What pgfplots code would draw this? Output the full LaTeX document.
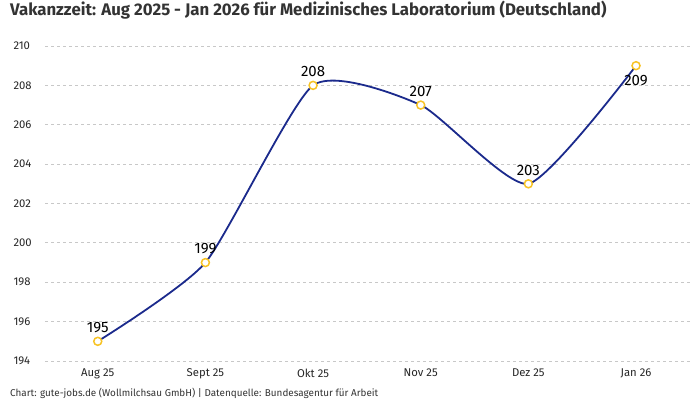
\documentclass[border=0pt]{standalone}
\usepackage{fontspec}
\setmainfont{Fira Sans}
\usepackage{pgfplots}
\pgfplotsset{compat=1.18}
\definecolor{linecol}{HTML}{1B2A8C}
\definecolor{markcol}{HTML}{F7C325}
\definecolor{titlecol}{HTML}{333333}
\definecolor{gridcol}{HTML}{C8C8C8}
\begin{document}
\begin{tikzpicture}[x=1pt,y=1pt]
\path[use as bounding box] (0,0) rectangle (700,400);
\node[anchor=west,font=\fontsize{16.8}{19}\selectfont\bfseries,text=titlecol,inner sep=0] at (10,390) {Vakanzzeit: Aug 2025 - Jan 2026 für Medizinisches Laboratorium (Deutschland)};
\node[anchor=west,font=\fontsize{9.9}{11}\selectfont,text=titlecol,inner sep=0] at (10,7) {Chart: gute-jobs.de (Wollmilchsau GmbH) | Datenquelle: Bundesagentur für Arbeit};
\begin{axis}[
  at={(45pt,39pt)}, anchor=south west, scale only axis,
  width=647pt, height=315pt,
  xmin=-0.49, xmax=5.52, ymin=194, ymax=210,
  axis line style={draw=none}, tick style={draw=none},
  ymajorgrids, grid style={gridcol, dashed, line width=0.8pt},
  xtick={0,...,5},
  xticklabels={Aug 25, Sept 25, Okt 25, Nov 25, Dez 25, Jan 26},
  ytick={194,196,...,210},
  ticklabel style={font=\fontsize{11.3}{13}\selectfont, text=black!85},
  xticklabel style={yshift=-4pt},
  yticklabel style={anchor=west, xshift=-35pt},
  /pgf/number format/assume math mode=true,
  clip=false,
]
\addplot[linecol, line width=1.8pt, smooth, tension=0.35,
  mark=*, mark size=4pt, mark options={fill=white, draw=markcol, line width=1.5pt}]
  coordinates {(0,195) (1,199) (2,208) (3,207) (4,203) (5,209)};
\addplot[draw=none, mark=none, nodes near coords, point meta=explicit symbolic,
  nodes near coords style={font=\fontsize{15}{17}\selectfont, text=black, anchor=south, yshift=5pt}]
  coordinates {(0,195)[195] (1,199)[199] (2,208)[208] (3,207)[207] (4,203)[203]};
\addplot[draw=none, mark=none, nodes near coords, point meta=explicit symbolic,
  nodes near coords style={font=\fontsize{15}{17}\selectfont, text=black, anchor=north, yshift=-6pt}]
  coordinates {(5,209)[209]};
\end{axis}
\end{tikzpicture}
\end{document}
